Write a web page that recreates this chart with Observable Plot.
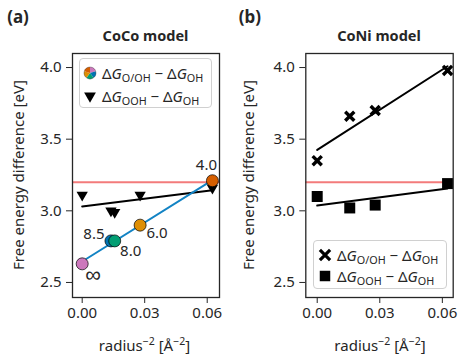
<!DOCTYPE html>
<html><head><meta charset="utf-8">
<script src="https://cdn.jsdelivr.net/npm/d3@7"></script>
<script src="https://cdn.jsdelivr.net/npm/@observablehq/plot@0.6"></script>
<style>
body{margin:0;background:#fff;}
#wrap{position:relative;width:471px;height:363px;font-family:"Noto Sans",sans-serif;color:#262626;overflow:hidden;background:#fff}
.abs{position:absolute;white-space:nowrap;line-height:1}
.c{transform:translate(-50%,-50%)}
.b{font-weight:bold}
.sub{font-size:0.72em;position:relative;top:0.28em}
.leg{position:absolute;border:1px solid #d0d0d0;border-radius:4px;background:rgba(255,255,255,0.85);box-sizing:border-box}
.row{position:absolute;left:0;right:0;height:20px;display:flex;align-items:center;font-size:15px;white-space:nowrap}
.row svg{flex:none}
svg.plot{position:absolute;top:0}
</style></head><body><div id="wrap"></div>
<script>
// ---- data ----
const coco_x = [0.0, 0.0138, 0.0156, 0.0278, 0.0625];
const coco_label = ["∞", "8.5", "8.0", "6.0", "4.0"];
const coco_O_minus_OH = [2.63, 2.79, 2.79, 2.90, 3.21];
const coco_OOH_minus_OH = [3.11, 3.00, 2.99, 3.11, 3.16];
const coco_colors = ["#cc78bc", "#0173b2", "#029e73", "#de8f05", "#d55e00"];
const coni_x = [0.0, 0.0156, 0.0278, 0.0625];
const coni_O_minus_OH = [3.35, 3.66, 3.70, 3.98];
const coni_OOH_minus_OH = [3.10, 3.02, 3.04, 3.19];
const threshold = [3.20];
const yTicks = [2.5, 3.0, 3.5, 4.0];
const xTicks = [0.0, 0.03, 0.06];

const coco = coco_x.map((x, i) => ({x, o: coco_O_minus_OH[i], ooh: coco_OOH_minus_OH[i], label: coco_label[i], color: coco_colors[i]}));
const coni = coni_x.map((x, i) => ({x, o: coni_O_minus_OH[i], ooh: coni_OOH_minus_OH[i]}));

const ink = "#262626";
const font = {fontFamily: "Noto Sans, sans-serif", fontSize: "15px", color: ink, background: "transparent"};

function base(opts) {
  return {
    width: opts.width, height: 363,
    marginLeft: opts.ml, marginRight: opts.mr, marginTop: 53, marginBottom: 66,
    style: font,
    x: {domain: opts.xd, ticks: xTicks, tickFormat: d3.format(".2f"), label: null, tickSize: 6, tickPadding: 4},
    y: {domain: [2.395, 4.098], ticks: yTicks, tickFormat: d3.format(".1f"), label: null, tickSize: 6, tickPadding: 5},
    color: {type: "identity"}
  };
}

const labelOffsets = [[11, 11], [-17, -7], [16, 10], [17, 8], [-6, -16]];

const plotA = Plot.plot({
  ...base({width: 235, ml: 72, mr: 16, xd: [-0.00465, 0.0659]}),
  marks: [
    Plot.ruleY(threshold, {stroke: "#f37b7b", strokeWidth: 2}),
    Plot.linearRegressionY(coco, {x: "x", y: "ooh", stroke: "black", strokeWidth: 2, ci: 0}),
    Plot.linearRegressionY(coco, {x: "x", y: "o", stroke: "#1283c4", strokeWidth: 2, ci: 0}),
    Plot.dot(coco, {x: "x", y: "ooh", symbol: "triangle", rotate: 180, fill: "black", r: 4.2}),
    Plot.dot(coco, {x: "x", y: "o", fill: "color", stroke: "black", strokeWidth: 0.7, r: 6}),
    ...labelOffsets.map(([dx, dy], k) =>
      Plot.text(coco, {filter: (d, i) => i === k, x: "x", y: "o", text: "label", dx, dy,
        fontSize: k === 0 ? 22 : 15, fill: ink})),
    Plot.frame({stroke: ink, strokeWidth: 1.3})
  ]
});
plotA.classList.add("plot");
plotA.style.left = "0px";

const plotB = Plot.plot({
  ...base({width: 236, ml: 70.3, mr: 18.3, xd: [-0.00547, 0.0652]}),
  marks: [
    Plot.ruleY(threshold, {stroke: "#f37b7b", strokeWidth: 2}),
    Plot.linearRegressionY(coni, {x: "x", y: "o", stroke: "black", strokeWidth: 2, ci: 0}),
    Plot.linearRegressionY(coni, {x: "x", y: "ooh", stroke: "black", strokeWidth: 2, ci: 0}),
    Plot.dot(coni, {x: "x", y: "o", symbol: "times", stroke: "black", strokeWidth: 3.4, r: 4.2}),
    Plot.dot(coni, {x: "x", y: "ooh", symbol: "square", fill: "black", r: 6.2}),
    Plot.frame({stroke: ink, strokeWidth: 1.3})
  ]
});
plotB.classList.add("plot");
plotB.style.left = "235px";

const wrap = document.getElementById("wrap");
wrap.appendChild(plotA);
wrap.appendChild(plotB);

function addText(html, x, y, cls, size, extra) {
  const d = document.createElement("div");
  d.className = "abs c " + (cls || "");
  d.style.left = x + "px"; d.style.top = y + "px";
  d.style.fontSize = size + "px";
  if (extra) d.style.transform = extra;
  d.innerHTML = html;
  wrap.appendChild(d);
}
addText("(a)", 18, 16, "b", 17);
addText("(b)", 250, 16, "b", 17);
addText("CoCo model", 145.5, 35, "b", 14.5);
addText("CoNi model", 379, 35, "b", 14.5);
const ylab = "Free energy difference [eV]";
addText(ylab, 18, 175, "", 15, "translate(-50%,-50%) rotate(-90deg)");
addText(ylab, 248, 175, "", 15, "translate(-50%,-50%) rotate(-90deg)");
const xlab = 'radius<sup style="font-size:0.7em">−2</sup> [Å<sup style="font-size:0.7em">−2</sup>]';
addText(xlab, 144.5, 344, "", 15);
addText(xlab, 380, 344, "", 15);

const termO = 'Δ<i>G</i><span class="sub">O/OH</span> − Δ<i>G</i><span class="sub">OH</span>';
const termOOH = 'Δ<i>G</i><span class="sub">OOH</span> − Δ<i>G</i><span class="sub">OH</span>';

function iconSvg(sym, size, fill, stroke, sw, rot) {
  const p = d3.symbol(sym, size)();
  return `<svg width="16" height="16" viewBox="-8 -8 16 16" style="margin-right:4px"><path d="${p}" fill="${fill}" stroke="${stroke}" stroke-width="${sw}" transform="rotate(${rot || 0})"/></svg>`;
}
function pieIcon() {
  const arcs = d3.pie().value(1).sort(null)(coco_colors);
  const arc = d3.arc().innerRadius(0).outerRadius(6);
  return `<svg width="16" height="16" viewBox="-8 -8 16 16" style="margin-right:4px">` +
    arcs.map(a => `<path d="${arc(a)}" fill="${a.data}"/>`).join("") +
    `<circle r="6" fill="none" stroke="#444" stroke-width="0.4"/></svg>`;
}
function legend(left, top, w, h, rows) {
  const box = document.createElement("div");
  box.className = "leg";
  Object.assign(box.style, {left: left + "px", top: top + "px", width: w + "px", height: h + "px"});
  rows.forEach(([icon, html, y, ix]) => {
    const r = document.createElement("div");
    r.className = "row";
    r.style.top = (y - 10) + "px";
    r.style.paddingLeft = ix + "px";
    r.innerHTML = icon + "<span>" + html + "</span>";
    box.appendChild(r);
  });
  wrap.appendChild(box);
}
legend(79, 58, 133, 50, [
  [pieIcon(), termO, 14, 2],
  [iconSvg(d3.symbolTriangle, 60, "black", "none", 0, 180), termOOH, 37, 2]
]);
legend(313, 240, 134, 49, [
  [iconSvg(d3.symbolTimes, 70, "none", "black", 3.2), termO, 14, 3],
  [iconSvg(d3.symbolSquare, 110, "black", "none", 0), termOOH, 35, 3]
]);
</script></body></html>
